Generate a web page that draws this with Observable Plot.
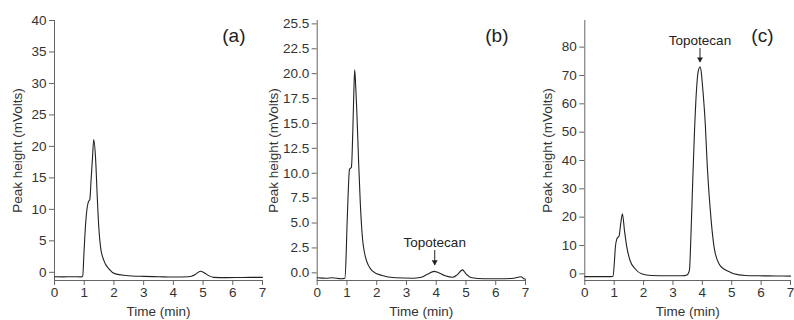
<!DOCTYPE html>
<html>
<head>
<meta charset="utf-8">
<script src="https://cdn.jsdelivr.net/npm/d3@7"></script>
<script src="https://cdn.jsdelivr.net/npm/@observablehq/plot@0.6"></script>
<style>
  body { margin: 0; background: white; }
  #wrap { position: relative; width: 794px; height: 320px; overflow: hidden; }
  .panel { position: absolute; top: 0; }
</style>
</head>
<body>
<div id="wrap"></div>
<script>
// ---- Data ----
const timeTicks = [0, 1, 2, 3, 4, 5, 6, 7];

// Panel (a)
const timeA  = [0, 0.3, 0.6, 0.9, 0.95, 0.99, 1.04, 1.10, 1.14, 1.19, 1.23, 1.28, 1.32, 1.38, 1.44, 1.49, 1.55, 1.66, 1.83, 2.05, 2.4, 3.0, 3.5, 4.0, 4.5, 4.63, 4.75, 4.91, 5.05, 5.2, 5.35, 5.8, 6.3, 7.0];
const valueA = [-0.7, -0.72, -0.7, -0.72, -0.6, 2.9, 7.2, 10.3, 11.2, 11.6, 14.6, 18.3, 21.1, 18.3, 11.9, 7.2, 4.0, 1.9, 0.55, -0.25, -0.5, -0.65, -0.7, -0.75, -0.7, -0.6, -0.3, 0.17, -0.1, -0.55, -0.8, -0.85, -0.82, -0.8];
const ticksA = [0, 5, 10, 15, 20, 25, 30, 35, 40];
const labelsA = ["0", "5", "10", "15", "20", "25", "30", "35", "40"];

// Panel (b)
const timeB  = [0, 0.3, 0.5, 0.8, 0.93, 0.97, 1.0, 1.04, 1.085, 1.15, 1.2, 1.23, 1.26, 1.29, 1.33, 1.39, 1.45, 1.51, 1.62, 1.85, 2.18, 2.63, 3.2, 3.5, 3.7, 3.93, 4.05, 4.3, 4.55, 4.7, 4.88, 5.0, 5.2, 5.6, 6.2, 6.6, 6.85, 6.95, 7.0];
const valueB = [-0.5, -0.55, -0.5, -0.6, -0.55, 1.5, 4.6, 7.9, 10.4, 10.6, 14.6, 18.0, 20.4, 19.0, 16.3, 11.3, 6.9, 3.9, 1.6, 0.2, -0.27, -0.5, -0.55, -0.45, -0.15, 0.15, 0.05, -0.3, -0.45, -0.2, 0.3, -0.1, -0.5, -0.6, -0.6, -0.55, -0.4, -0.6, -0.65];
const ticksB = [0, 2.5, 5, 7.5, 10, 12.5, 15, 17.5, 20, 22.5, 25];
const labelsB = ["0.0", "2.5", "5.0", "7.5", "10.0", "12.5", "15.0", "17.5", "20.0", "22.5", "25.5"];

// Panel (c)
const timeC  = [0, 0.5, 0.9, 0.96, 1.01, 1.04, 1.09, 1.17, 1.22, 1.28, 1.35, 1.43, 1.54, 1.71, 1.93, 2.27, 2.8, 3.3, 3.48, 3.56, 3.61, 3.67, 3.73, 3.80, 3.86, 3.92, 3.96, 4.0, 4.1, 4.17, 4.29, 4.4, 4.57, 4.75, 4.95, 5.07, 5.47, 5.9, 6.5, 7.0];
const valueC = [-1.0, -1.0, -1.0, -0.8, 4.7, 9.4, 12.3, 13.5, 17.5, 21.2, 15.3, 9.4, 4.7, 1.8, 0.0, -0.6, -0.7, -0.7, -0.4, 1.2, 12.9, 31.8, 49.4, 64.7, 71.5, 73.0, 71.5, 67.1, 52.9, 37.6, 20.0, 9.4, 3.5, 1.6, 0.6, 0.0, -0.6, -0.7, -0.75, -0.8];
const ticksC = [0, 10, 20, 30, 40, 50, 60, 70, 80];
const labelsC = ["0", "10", "20", "30", "40", "50", "60", "70", "80"];

// Annotations (arrow tail/tip in data units)
const notesB = [{t: 3.95, tail: 2.24, tip: 0.75, label: "Topotecan"}];
const notesC = [{t: 3.92, tail: 79.5, tip: 74.6, label: "Topotecan"}];

const FONT = "'Liberation Sans', Arial, Helvetica, sans-serif";
const INK = "#222";
const AXIS = "#666";
const FS = 13.5;

function panel({left, width, marginLeft, marginRight, times, values, yDomain, yTicks, yLabels, yLabelDx, tag, notes}) {
  const data = times.map((t, i) => ({t, v: values[i]}));
  const marks = [
    Plot.ruleX([0], {stroke: AXIS, strokeWidth: 1}),
    Plot.ruleY([yDomain[0]], {stroke: AXIS, strokeWidth: 1}),
    Plot.axisX(timeTicks, {tickSize: 5, tickPadding: 2, label: null, fontSize: FS, stroke: AXIS, fill: "#333"}),
    Plot.axisY(yTicks, {tickSize: 5, tickPadding: 3, label: null, fontSize: FS, stroke: AXIS, fill: "#333",
      tickFormat: d => yLabels[yTicks.indexOf(d)]}),
    Plot.text(["Time (min)"], {frameAnchor: "bottom", dy: 31, textAnchor: "middle", lineAnchor: "middle", fontSize: FS, fill: "#333"}),
    Plot.text(["Peak height (mVolts)"], {frameAnchor: "left", dx: yLabelDx, rotate: -90, textAnchor: "middle", lineAnchor: "middle", fontSize: FS, fill: "#333"}),
    Plot.text([tag], {frameAnchor: "top-right", dx: -17, dy: 15, textAnchor: "end", lineAnchor: "middle", fontSize: 19, fill: INK}),
    Plot.line(data, {x: "t", y: "v", curve: "monotone-x", stroke: INK, strokeWidth: 1.1})
  ];
  if (notes) {
    marks.push(
      Plot.ruleX(notes, {x: "t", y1: "tail", y2: "tip", stroke: INK, strokeWidth: 1}),
      Plot.dot(notes, {x: "t", y: "tip", symbol: "triangle", rotate: 180, r: 2.2, fill: INK, stroke: "none", dy: -3.3}),
      Plot.text(notes, {x: "t", y: "tail", text: "label", dy: -8, lineAnchor: "middle", fontSize: FS, fill: INK})
    );
  }
  const svg = Plot.plot({
    width, height: 320,
    marginTop: 20, marginBottom: 40, marginLeft, marginRight,
    style: {background: "transparent", overflow: "visible", fontFamily: FONT, fontSize: FS + "px"},
    x: {domain: [0, 7]},
    y: {domain: yDomain},
    marks
  });
  const div = document.createElement("div");
  div.className = "panel";
  div.style.left = left + "px";
  div.style.width = width + "px";
  div.appendChild(svg);
  document.getElementById("wrap").appendChild(div);
}

panel({left: 0, width: 265, marginLeft: 54, marginRight: 3, times: timeA, values: valueA,
  yDomain: [-1.3, 40], yTicks: ticksA, yLabels: labelsA, yLabelDx: -37, tag: "(a)"});
panel({left: 265, width: 265, marginLeft: 51.7, marginRight: 5, times: timeB, values: valueB,
  yDomain: [-0.77, 25.34], yTicks: ticksB, yLabels: labelsB, yLabelDx: -43.7, tag: "(b)", notes: notesB});
panel({left: 530, width: 264, marginLeft: 54.3, marginRight: 4, times: timeC, values: valueC,
  yDomain: [-2.35, 89.4], yTicks: ticksC, yLabels: labelsC, yLabelDx: -37, tag: "(c)", notes: notesC});
</script>
</body>
</html>
